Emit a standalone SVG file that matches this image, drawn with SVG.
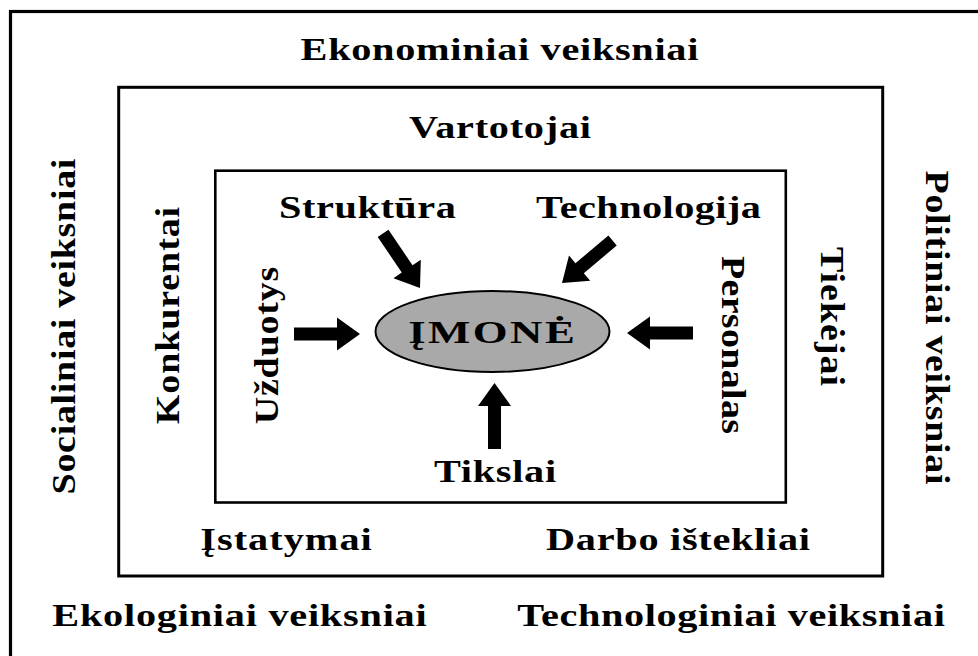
<svg xmlns="http://www.w3.org/2000/svg" xmlns:xlink="http://www.w3.org/1999/xlink" width="978" height="656" viewBox="0 0 978 656">
  <style>
    .frame { fill: none; stroke: #000; }
    .lbl { font-family: "Liberation Serif", "Times New Roman", serif; font-weight: bold; font-size: 31px; fill: #000; text-anchor: middle; }
    .vl { font-size: 33px; }
    .arrow { fill: #000; }
  </style>
  <defs>
    <!-- block arrow pointing along +x, tip at the origin -->
    <path id="blockArrow" d="M0,0 L-23,-16.5 L-23,-6.5 L-66,-6.5 L-66,6.5 L-23,6.5 L-23,16.5 Z"/>
  </defs>

  <rect width="978" height="656" fill="#fff"/>

  <!-- environment layers; labels use a widened bold serif -->
  <g id="outer-environment">
    <rect class="frame" x="10.5" y="11.5" width="990" height="680" stroke-width="3.2"/>
    <text class="lbl" transform="translate(499.5,60) scale(1.3,1)" textLength="306" lengthAdjust="spacing">Ekonominiai veiksniai</text>
    <text class="lbl vl" transform="translate(75,326.5) rotate(-90) scale(1.15,1)" textLength="292" lengthAdjust="spacing">Socialiniai veiksniai</text>
    <text class="lbl vl" transform="translate(926,327.5) rotate(90) scale(1.15,1)" textLength="273" lengthAdjust="spacing">Politiniai veiksniai</text>
    <text class="lbl" transform="translate(239.5,626) scale(1.3,1)" textLength="288" lengthAdjust="spacing">Ekologiniai veiksniai</text>
    <text class="lbl" transform="translate(731,626) scale(1.3,1)" textLength="329" lengthAdjust="spacing">Technologiniai veiksniai</text>
  </g>

  <g id="market-environment">
    <rect class="frame" x="118.7" y="87.3" width="764" height="488.7" stroke-width="3"/>
    <text class="lbl" transform="translate(500,138) scale(1.3,1)" textLength="140" lengthAdjust="spacing">Vartotojai</text>
    <text class="lbl vl" transform="translate(179.3,315.5) rotate(-90) scale(1.15,1)" textLength="189" lengthAdjust="spacing">Konkurentai</text>
    <text class="lbl vl" transform="translate(821,316.5) rotate(90) scale(1.15,1)" textLength="121" lengthAdjust="spacing">Tiekėjai</text>
    <text class="lbl" transform="translate(286,550) scale(1.3,1)" textLength="132" lengthAdjust="spacing">Įstatymai</text>
    <text class="lbl" transform="translate(678,550) scale(1.3,1)" textLength="203" lengthAdjust="spacing">Darbo ištekliai</text>
  </g>

  <g id="internal-environment">
    <rect class="frame" x="215.3" y="170.7" width="570.5" height="331.8" stroke-width="2.6"/>
    <text class="lbl" transform="translate(367.5,218) scale(1.3,1)" textLength="136" lengthAdjust="spacing">Struktūra</text>
    <text class="lbl" transform="translate(648.5,218) scale(1.3,1)" textLength="173" lengthAdjust="spacing">Technologija</text>
    <text class="lbl vl" transform="translate(277.5,345.5) rotate(-90) scale(1.15,1)" textLength="137" lengthAdjust="spacing">Užduotys</text>
    <text class="lbl vl" transform="translate(722,345) rotate(90) scale(1.15,1)" textLength="155" lengthAdjust="spacing">Personalas</text>
    <text class="lbl" transform="translate(495,482) scale(1.3,1)" textLength="94" lengthAdjust="spacing">Tikslai</text>
  </g>

  <g id="imone">
    <ellipse cx="492.5" cy="331.5" rx="117" ry="40.5" fill="#a9a9a9" stroke="#000" stroke-width="2"/>
    <text class="lbl" style="font-size:32px" transform="translate(491.5,343) scale(1.4,1)" textLength="119" lengthAdjust="spacing">ĮMONĖ</text>
  </g>

  <!-- influence arrows pointing at the company -->
  <g id="connectors" class="arrow">
    <use xlink:href="#blockArrow" transform="translate(420,288) rotate(56)"/>
    <use xlink:href="#blockArrow" transform="translate(562,283) rotate(140)"/>
    <use xlink:href="#blockArrow" transform="translate(360,334) rotate(0)"/>
    <use xlink:href="#blockArrow" transform="translate(627,333) rotate(180)"/>
    <use xlink:href="#blockArrow" transform="translate(494.5,383) rotate(-90)"/>
  </g>
</svg>
